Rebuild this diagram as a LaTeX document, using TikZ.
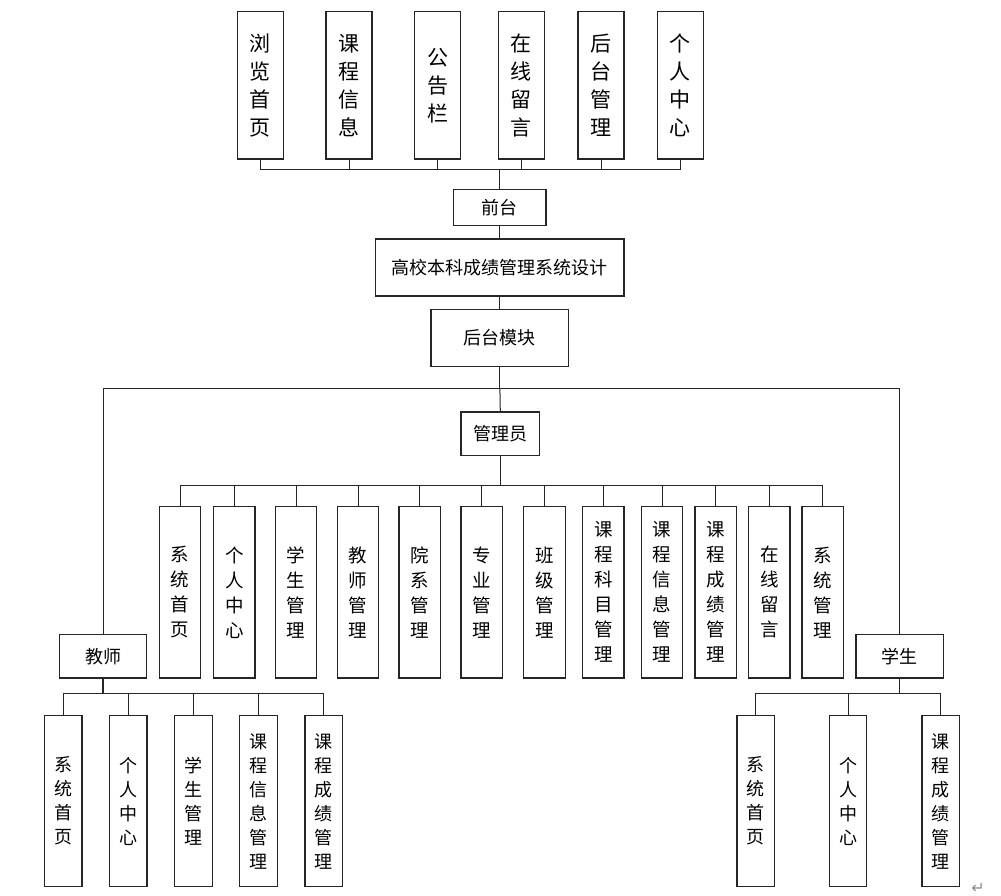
\documentclass[tikz,border=0pt]{standalone}
\usepackage{fontspec}
\newfontfamily\cjk{Noto Sans CJK SC}
\newfontfamily\dejavu{DejaVu Sans}
\begin{document}
\begin{tikzpicture}[x=1pt,y=-1pt,
  box/.style={draw=black!85, line width=1.3pt, fill=white, inner sep=0pt, align=center, font=\cjk},
  topv/.style={box, minimum width=46, minimum height=147.3, font=\cjk\fontsize{21}{28}\selectfont},
  admv/.style={box, minimum width=41.4, minimum height=171.3, font=\cjk\fontsize{18.5}{25}\selectfont},
  lowv/.style={box, minimum width=37.5, minimum height=171, font=\cjk\fontsize{18}{24}\selectfont},
  hbox/.style={box, font=\cjk\fontsize{18}{20}\selectfont},
  conn/.style={draw=black!85, line width=1pt}
]
\useasboundingbox (0,0) rectangle (1001,896);
\fill[white] (0,0) rectangle (1001,896);

% top row
\node[topv] (t1) at (260.3,85.3) {浏\\览\\首\\页};
\node[topv] (t2) at (349,85.3) {课\\程\\信\\息};
\node[topv] (t3) at (437.7,85.3) {公\\告\\栏};
\node[topv] (t4) at (521.3,85.3) {在\\线\\留\\言};
\node[topv] (t5) at (601,85.3) {后\\台\\管\\理};
\node[topv] (t6) at (680.3,85.3) {个\\人\\中\\心};

\node[hbox, minimum width=92.3, minimum height=36.4] (qt) at (499.9,207.5) {前台};
\node[hbox, minimum width=248.3, minimum height=57] (main) at (499.9,267.5) {高校本科成绩管理系统设计};
\node[hbox, minimum width=137.7, minimum height=57.4] (ht) at (499.9,338) {后台模块};
\node[hbox, minimum width=78.7, minimum height=43.7] (adm) at (500.3,433.9) {管理员};
\node[hbox, minimum width=87.4, minimum height=43.7] (tea) at (103,656.2) {教师};
\node[hbox, minimum width=87.3, minimum height=43.7] (stu) at (899.7,656.2) {学生};

% admin children
\node[admv] (a1) at (180,592.3) {系\\统\\首\\页};
\node[admv] (a2) at (234.3,592.3) {个\\人\\中\\心};
\node[admv] (a3) at (296,592.3) {学\\生\\管\\理};
\node[admv] (a4) at (358,592.3) {教\\师\\管\\理};
\node[admv] (a5) at (419.7,592.3) {院\\系\\管\\理};
\node[admv] (a6) at (481.7,592.3) {专\\业\\管\\理};
\node[admv] (a7) at (544.5,592.3) {班\\级\\管\\理};
\node[admv] (a8) at (603.3,592.3) {课\\程\\科\\目\\管\\理};
\node[admv] (a9) at (662,592.3) {课\\程\\信\\息\\管\\理};
\node[admv] (a10) at (715.7,592.3) {课\\程\\成\\绩\\管\\理};
\node[admv] (a11) at (769.3,592.3) {在\\线\\留\\言};
\node[admv] (a12) at (822.8,592.3) {系\\统\\管\\理};

% teacher children
\node[lowv] (e1) at (63.2,801.2) {系\\统\\首\\页};
\node[lowv] (e2) at (128.3,801.2) {个\\人\\中\\心};
\node[lowv] (e3) at (193.5,801.2) {学\\生\\管\\理};
\node[lowv] (e4) at (258.5,801.2) {课\\程\\信\\息\\管\\理};
\node[lowv] (e5) at (323.8,801.2) {课\\程\\成\\绩\\管\\理};

% student children
\node[lowv] (s1) at (755.7,801.2) {系\\统\\首\\页};
\node[lowv] (s2) at (848,801.2) {个\\人\\中\\心};
\node[lowv] (s3) at (940.8,801.2) {课\\程\\成\\绩\\管\\理};

% junction coordinates
\coordinate (tb) at (499.9,169.7);
\coordinate (bb) at (499.9,388.3);
\coordinate (ab) at (500.3,485);
\coordinate (eb) at (103,693.7);
\coordinate (sb) at (899.7,693.7);

% connectors
\foreach \n in {t1,t2,t3,t4,t5,t6} \draw[conn] (\n.south) |- (tb);
\draw[conn] (tb) -- (qt.north);
\draw[conn] (qt.south) -- (main.north);
\draw[conn] (main.south) -- (ht.north);
\draw[conn] (ht.south) -- (bb);
\draw[conn] (bb) -- (adm.north);
\draw[conn] (bb) -| (tea.north);
\draw[conn] (bb) -| (stu.north);
\draw[conn, line width=1.5pt] (adm.south) -- (ab);
\foreach \n in {a1,a2,a3,a4,a5,a6,a7,a8,a9,a10,a11,a12} \draw[conn] (ab) -| (\n.north);
\draw[conn, line width=1.5pt] (tea.south) -- (eb);
\foreach \n in {e1,e2,e3,e4,e5} \draw[conn] (eb) -| (\n.north);
\draw[conn, line width=1.5pt] (stu.south) -- (sb);
\foreach \n in {s1,s2,s3} \draw[conn] (sb) -| (\n.north);

% paragraph mark
\node[text=black!45, font=\dejavu\fontsize{16}{16}\selectfont, inner sep=0pt] (pm) at (978,888) {↵};
\end{tikzpicture}
\end{document}
